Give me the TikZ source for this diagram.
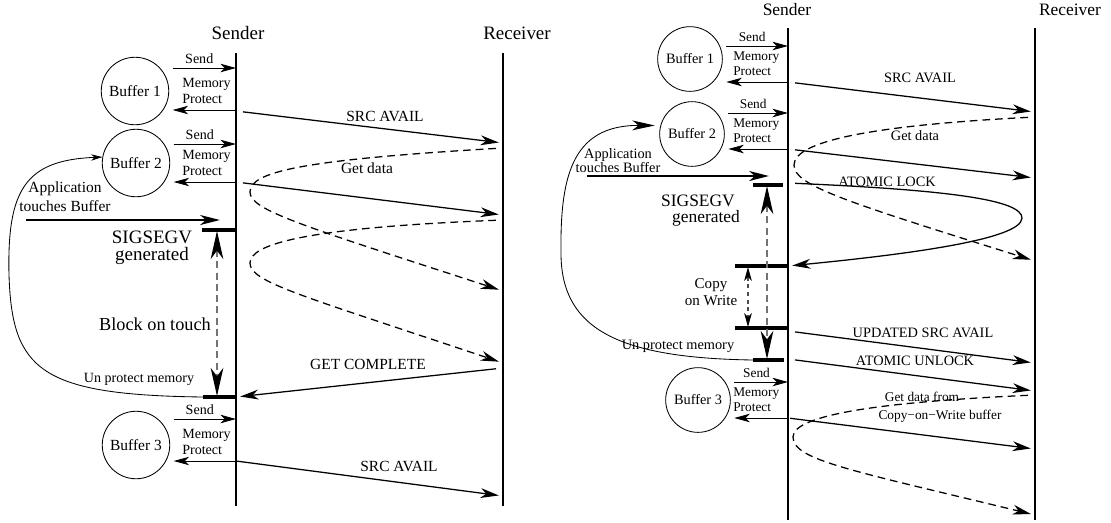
\documentclass[tikz,border=0pt]{standalone}
\usepackage{fontspec}
\setmainfont{Liberation Serif}
\usetikzlibrary{arrows.meta, calc}

\tikzset{
    lifeline/.style={line width=1.4pt},
    hdrA/.style={font=\fontsize{13.5}{12}\selectfont, inner sep=0pt},
    hdrB/.style={font=\fontsize{12.4}{12}\selectfont, inner sep=0pt},
    bigA/.style={font=\fontsize{13}{14}\selectfont, inner sep=0pt},
    midA/.style={font=\fontsize{11}{13.5}\selectfont, inner sep=0pt},
    midB/.style={font=\fontsize{10.2}{10}\selectfont, inner sep=0pt},
    smallA/.style={font=\fontsize{10}{11.4}\selectfont, inner sep=0pt},
    smallB/.style={font=\fontsize{9.5}{10.7}\selectfont, inner sep=0pt},
    bufA/.style={circle, draw, line width=0.6pt, inner sep=0pt, minimum size=48pt, midA},
    bufB/.style={circle, draw, line width=0.6pt, inner sep=0pt, minimum size=46pt, midB},
    ctl/.style={-{Stealth[length=11pt, width=6pt, inset=3pt]}, line width=0.6pt},
    msg/.style={-{Stealth[length=13pt, width=7pt, inset=4pt]}, line width=0.9pt,
        shorten <=5pt, shorten >=3pt},
    reply/.style={msg, dash pattern=on 5.5pt off 3.5pt},
    sigbar/.style={line width=2.2pt},
    touch/.style={-{Stealth[length=14pt, width=7pt, inset=4pt]}, line width=2pt},
    wait/.style={{Stealth[length=20pt, width=9pt, inset=6pt, color=black]}-{Stealth[length=20pt, width=9pt, inset=6pt, color=black]},
        black!55, line width=0.8pt, dash pattern=on 5pt off 3pt},
    cowwait/.style={{Stealth[length=10pt, width=5.5pt, inset=3pt, color=black]}-{Stealth[length=10pt, width=5.5pt, inset=3pt, color=black]},
        black!70, line width=0.8pt, dash pattern=on 3pt off 2.5pt},
    loopA/.style={-{Stealth[length=8pt, width=4.5pt, inset=2.5pt]}, line width=0.6pt},
    loopB/.style={-{Stealth[length=16pt, width=7pt, inset=4.5pt]}, line width=0.6pt, shorten >=4pt},
}

\begin{document}
\begin{tikzpicture}[x=0.025cm, y=-0.025cm]
    \useasboundingbox (0,0) rectangle (1111,522);

    % ---------------- block on touch ----------------
    \coordinate (sndA) at (236,53);
    \coordinate (rcvA) at (503,53);
    \draw[lifeline] (sndA) -- (sndA |- 0,506);
    \draw[lifeline] (rcvA) -- (rcvA |- 0,506);
    \node[hdrA] (sndAname) at (238,33) {Sender};
    \node[hdrA] (rcvAname) at (517,33) {Receiver};

    \node[bufA] (bufA1) at (135,91) {Buffer 1};
    \node[bufA] (bufA2) at (136,163) {Buffer 2};
    \node[bufA] (bufA3) at (136,445) {Buffer 3};
    % send, then protect the buffer
    \foreach \b/\ys/\yp in {bufA1/68/110, bufA2/144/182, bufA3/419/461} {
        \draw[ctl, shorten <=2.5pt] (\b.east |- 0,\ys) -- (sndA |- 0,\ys)
            node[smallA, pos=0.45, above=3pt] (\b-send) {Send};
        \draw[ctl, shorten >=2.5pt] (sndA |- 0,\yp) -- (\b.east |- 0,\yp);
        \node[smallA, align=left, anchor=west] (\b-prot)
            at ($(sndA |- 0,\yp)+(-54,-19)$) {Memory\\Protect};
    }

    % messages to the receiver
    \draw[msg] (sndA |- 0,111) -- (rcvA |- 0,143);
    \node[midA] (srcA1) at (385,116) {SRC AVAIL};
    \draw[reply] (rcvA |- 0,148) .. controls (300,160) and (250,172) .. (250,192)
        .. controls (250,210) and (300,225) .. (rcvA |- 0,291);
    \node[midA] (getA) at (367,168) {Get data};
    \draw[msg] (sndA |- 0,182) -- (rcvA |- 0,215);
    \draw[reply] (rcvA |- 0,220) .. controls (300,228) and (250,245) .. (250,263)
        .. controls (250,282) and (300,295) .. (rcvA |- 0,363);
    \draw[msg] (rcvA |- 0,368) -- (sndA |- 0,397);
    \node[midA] (doneA) at (368,364) {GET COMPLETE};
    \draw[msg, shorten <=0pt] (sndA |- 0,461) -- (rcvA |- 0,496);
    \node[midA] (srcA2) at (399,466) {SRC AVAIL};

    % application touches buffer 2
    \coordinate (appA) at (26,220);
    \coordinate (sigA) at (202,230);
    \coordinate (unpA) at (203,397);
    \draw[touch] (appA) -- (220,220);
    \node[midA, align=center] (appAtxt) at (65,197) {Application\\touches Buffer};
    \draw[sigbar] (sigA) -- (sndA |- sigA);
    \draw[sigbar] (unpA) -- (sndA |- unpA);
    \node[hdrA, align=center] (sigAtxt) at (152,248) {SIGSEGV\\generated};
    \coordinate (blkA1) at (217,231);
    \coordinate (blkA2) at (217,396);
    \draw[wait] (blkA1) -- (blkA2);
    \node[bigA] (blkAtxt) at (155,324) {Block on touch};
    \node[smallA] (unpAtxt) at (139,379) {Un protect memory};
    \draw[loopA] (unpA) .. controls (40,395) and (12,370) .. (9,275)
        .. controls (7,190) and (25,160) .. (bufA2.170);

    % ---------------- copy on write ----------------
    \coordinate (sndB) at (788,28);
    \coordinate (rcvB) at (1035,28);
    \draw[lifeline] (sndB) -- (sndB |- 0,520);
    \draw[lifeline] (rcvB) -- (rcvB |- 0,520);
    \node[hdrB] (sndBname) at (787,10) {Sender};
    \node[hdrB] (rcvBname) at (1070,10) {Receiver};

    \node[bufB] (bufB1) at (690,59) {Buffer 1};
    \node[bufB] (bufB2) at (692,134) {Buffer 2};
    \node[bufB] (bufB3) at (698,400) {Buffer 3};
    \foreach \b/\ys/\yp in {bufB1/46/82, bufB2/113/149, bufB3/382/418} {
        \draw[ctl, shorten <=2.5pt] (\b.east |- 0,\ys) -- (sndB |- 0,\ys)
            node[smallB, pos=0.45, above=3pt] (\b-send) {Send};
        \draw[ctl, shorten >=2.5pt] (sndB |- 0,\yp) -- (\b.east |- 0,\yp);
        \node[smallB, align=left, anchor=west] (\b-prot)
            at ($(sndB |- 0,\yp)+(-55,-18.5)$) {Memory\\Protect};
    }

    \draw[msg] (sndB |- 0,82) -- (rcvB |- 0,112);
    \node[midB] (srcB1) at (920,78) {SRC AVAIL};
    \draw[reply] (rcvB |- 0,117) .. controls (880,125) and (794,140) .. (794,165)
        .. controls (794,185) and (840,200) .. (rcvB |- 0,261);
    \node[midB] (getB) at (915,136) {Get data};
    \draw[msg] (sndB |- 0,149) -- (rcvB |- 0,178);
    % lock request bounces straight back
    \draw[msg] (sndB |- 0,183) .. controls (950,190) and (1022,200) .. (1022,218)
        .. controls (1022,240) and (900,255) .. (sndB |- 0,266);
    \node[midB] (lockB) at (887,182) {ATOMIC LOCK};
    \draw[msg] (sndB |- 0,331) -- (rcvB |- 0,363);
    \node[midB] (updB) at (923,333) {UPDATED SRC AVAIL};
    \draw[msg] (sndB |- 0,359) -- (rcvB |- 0,391);
    \node[midB] (unlockB) at (915,361) {ATOMIC UNLOCK};
    \draw[msg, shorten <=1.5pt] (sndB |- 0,418) -- (rcvB |- 0,449);
    \draw[reply] (rcvB |- 0,395) .. controls (880,402) and (793,415) .. (793,437)
        .. controls (793,460) and (850,470) .. (rcvB |- 0,515);
    \node[smallB] (cowB1) at (922,397) {Get data from};
    \node[smallB] (cowB2) at (940,416) {Copy−on−Write buffer};

    % application touches buffer 2
    \coordinate (appB) at (587,176);
    \coordinate (sigB) at (753,185);
    \coordinate (lockEndB) at (735,266);
    \coordinate (cowEndB) at (735,328);
    \coordinate (unpB) at (753,360);
    \draw[touch] (appB) -- (769,176);
    \node[midB, align=center] (appBtxt) at (618,161) {Application\\touches Buffer};
    \draw[sigbar] (sigB) -- ++(30,0);
    \draw[sigbar] (lockEndB) -- (sndB |- lockEndB);
    \draw[sigbar] (cowEndB) -- (sndB |- cowEndB);
    \draw[sigbar] (unpB) -- ++(31,0);
    \node[hdrB] (sigBtxt1) at (698,201) {SIGSEGV};
    \node[hdrB] (sigBtxt2) at (706,218) {generated};
    \coordinate (blkB1) at (767,186);
    \coordinate (blkB2) at (767,359);
    \draw[wait] (blkB1) -- (blkB2);
    \coordinate (cpyB1) at (748,267);
    \coordinate (cpyB2) at (748,327);
    \draw[cowwait] (cpyB1) -- (cpyB2);
    \node[midB, align=center, font=\fontsize{10.7}{12}\selectfont] (cpyBtxt) at (711,292) {Copy\\on Write};
    \node[smallB, font=\fontsize{10.2}{12}\selectfont] (unpBtxt) at (678,346) {Un protect memory};
    \draw[loopB] (unpB) .. controls (620,358) and (562,330) .. (561,255)
        .. controls (560,180) and (570,125) .. (bufB2.165);
\end{tikzpicture}
\end{document}
